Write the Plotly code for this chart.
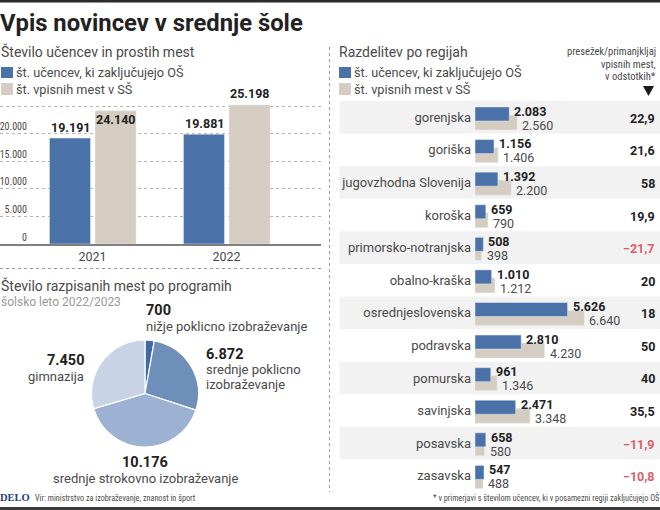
import plotly.graph_objects as go

W, H = 660, 510
FONT = "Roboto"
NARROW = "Roboto Condensed"
BLUE = "#4a72a9"
BEIGE = "#d5cdc1"
DARK = "#222222"
GREY = "#4a4a4a"

years = ["2021", "2022"]
pupils_total = [19191, 19881]
places_total = [24140, 25198]
y_ticks = [0, 5000, 10000, 15000, 20000, 25000]
y_tick_labels = ["0", "5.000", "10.000", "15.000", "20.000", ""]

programmes = ["nižje poklicno izobraževanje", "srednje poklicno izobraževanje",
              "srednje strokovno izobraževanje", "gimnazija"]
programme_places = [700, 6872, 10176, 7450]
programme_colors = ["#3f6aa3", "#6f8fbb", "#9db1d3", "#c8d3e6"]

regions = ["gorenjska", "goriška", "jugovzhodna Slovenija", "koroška",
           "primorsko-notranjska", "obalno-kraška", "osrednjeslovenska",
           "podravska", "pomurska", "savinjska", "posavska", "zasavska"]
region_pupils = [2083, 1156, 1392, 659, 508, 1010, 5626, 2810, 961, 2471, 658, 547]
region_places = [2560, 1406, 2200, 790, 398, 1212, 6640, 4230, 1346, 3348, 580, 488]
region_pct = [22.9, 21.6, 58, 19.9, -21.7, 20, 18, 50, 40, 35.5, -11.9, -10.8]


def dots(v):
    return f"{v:,}".replace(",", ".")


def pct(v):
    s = str(abs(v)).replace(".", ",")
    return ("\u2212" + s) if v < 0 else s


def px(x):
    return x / W


def py(y):
    return 1 - y / H


def note(x, y, text, size=13, color=GREY, anchor="left", bold=False, family=FONT):
    return dict(x=px(x), y=py(y), xref="paper", yref="paper", text=f"<b>{text}</b>" if bold else text,
                showarrow=False, xanchor=anchor, yanchor="middle",
                font=dict(size=size, color=color, family=family), borderpad=0, borderwidth=0)


def rect(x0, y0, x1, y1, color, layer="below"):
    return dict(type="rect", xref="paper", yref="paper", x0=px(x0), x1=px(x1), y0=py(y0), y1=py(y1),
                fillcolor=color, line_width=0, layer=layer)


def line(x0, y0, x1, y1):
    return dict(type="line", xref="paper", yref="paper", x0=px(x0), x1=px(x1), y0=py(y0), y1=py(y1),
                line=dict(color="#9a9a9a", width=1, dash="dot"), layer="below")


fig = go.Figure()

fig.add_bar(x=years, y=pupils_total, marker_color=BLUE, width=0.306, offset=-0.321,
            xaxis="x", yaxis="y", name="št. učencev, ki zaključujejo OŠ")
fig.add_bar(x=years, y=places_total, marker_color=BEIGE, width=0.306, offset=0.019,
            xaxis="x", yaxis="y", name="št. vpisnih mest v SŠ")

fig.add_pie(labels=programmes, values=programme_places, sort=False, direction="clockwise",
            rotation=0, textinfo="none", hole=0,
            marker=dict(colors=programme_colors, line=dict(color="white", width=1.2)),
            domain=dict(x=[px(91.5), px(198.5)], y=[py(447), py(340)]))

fig.add_bar(y=regions, x=region_places, orientation="h", marker_color=BEIGE, width=0.46, offset=-0.07,
            xaxis="x2", yaxis="y2", name="št. vpisnih mest v SŠ")
fig.add_bar(y=regions, x=region_pupils, orientation="h", marker_color=BLUE, width=0.43, offset=-0.316,
            xaxis="x2", yaxis="y2", name="št. učencev, ki zaključujejo OŠ")

anns = [
    note(0, 23, "Vpis novincev v srednje šole", 23.8, DARK, bold=True),
    note(1, 52, "Število učencev in prostih mest", 14),
    note(16, 73, "št. učencev, ki zaključujejo OŠ", 12.7),
    note(16, 89, "št. vpisnih mest v SŠ", 12.7),
    note(1, 285, "Število razpisanih mest po programih", 14),
    note(1, 302, "šolsko leto 2022/2023", 12, "#9a9a9a"),
    note(339, 52, "Razdelitev po regijah", 14),
    note(354, 73, "št. učencev, ki zaključujejo OŠ", 12.7),
    note(354, 89, "št. vpisnih mest v SŠ", 12.7),
    note(656, 52, "presežek/primanjkljaj", 10.5, GREY, "right", family=NARROW),
    note(656, 64, "vpisnih mest,", 10.5, GREY, "right", family=NARROW),
    note(656, 76, "v odstotkih*", 10.5, GREY, "right", family=NARROW),
    note(146, 310, dots(programme_places[0]), 14.5, DARK, bold=True),
    note(146, 326, "nižje poklicno izobraževanje", 13),
    note(206, 354, dots(programme_places[1]), 14.5, DARK, bold=True),
    note(206, 369, "srednje poklicno", 13),
    note(206, 384, "izobraževanje", 13),
    note(84, 360, dots(programme_places[3]), 14.5, DARK, "right", bold=True),
    note(84, 376, "gimnazija", 13, GREY, "right"),
    note(145, 462, dots(programme_places[2]), 14.5, DARK, "center", bold=True),
    note(145, 478, "srednje strokovno izobraževanje", 13, GREY, "center"),
    note(0, 497, "DELO", 10.5, "#1d3f78", bold=True, family="Liberation Serif"),
    note(35, 498, "Vir: ministrstvo za izobraževanje, znanost in šport", 8.2, GREY, family=NARROW),
    note(659, 497, "* v primerjavi s številom učencev, ki v posamezni regiji zaključujejo OŠ", 8.2, GREY, "right", family=NARROW),
]

col_shift = {19191: 1, 24140: -18, 19881: 1, 25198: 2}
for i, yr in enumerate(years):
    for v, dx in ((pupils_total[i], -22), (places_total[i], 23)):
        anns.append(dict(x=i, y=v, xref="x", yref="y", text=f"<b>{dots(v)}</b>", showarrow=False,
                         xanchor="center", yanchor="bottom", xshift=dx, yshift=col_shift[v],
                         font=dict(size=12.5, color=DARK, family=FONT)))

for i, r in enumerate(regions):
    anns.append(dict(x=region_pupils[i], y=r, xref="x2", yref="y2", text=f"<b>{dots(region_pupils[i])}</b>",
                     showarrow=False, xanchor="left", yanchor="middle", xshift=3, yshift=6,
                     font=dict(size=12.5, color=DARK, family=FONT)))
    anns.append(dict(x=region_places[i], y=r, xref="x2", yref="y2", text=dots(region_places[i]),
                     showarrow=False, xanchor="left", yanchor="middle", xshift=3, yshift=-8,
                     font=dict(size=12.5, color=GREY, family=FONT)))
    anns.append(dict(x=px(657), y=r, xref="paper", yref="y2", text=f"<b>{pct(region_pct[i])}</b>",
                     showarrow=False, xanchor="right", yanchor="middle", yshift=-1,
                     font=dict(size=12.5, color="#d8606c" if region_pct[i] < 0 else DARK, family=FONT)))

shapes = [
    rect(0, 0, W, 2.5, "#2b2b2b"),
    rect(0, 507, W, H, "#3a3a3a"),
    rect(1, 67, 13, 78, BLUE), rect(1, 83, 13, 95, BEIGE),
    rect(339, 67, 351, 78, BLUE), rect(339, 83, 351, 95, BEIGE),
    line(329.5, 47, 329.5, 492),
    line(0, 268.5, 321, 268.5),
    dict(type="path", xref="paper", yref="paper", fillcolor="#1a1a1a", line_width=0,
         path=f"M {px(643)} {py(86)} L {px(654)} {py(86)} L {px(648.5)} {py(96)} Z"),
]
row_h = (492 - 101) / 12
for i in range(0, 12, 2):
    shapes.append(rect(339.5, 101 + i * row_h, W, 101 + (i + 1) * row_h, "#f2f2f2"))

fig.update_layout(
    width=W, height=H, margin=dict(l=0, r=0, t=0, b=0, autoexpand=False),
    paper_bgcolor="white", plot_bgcolor="rgba(0,0,0,0)", showlegend=False,
    barmode="overlay", font=dict(family=FONT, color=GREY),
    annotations=anns, shapes=shapes,
    xaxis=dict(domain=[0, px(321)], type="category", range=[-0.69, 1.705], anchor="y",
               showgrid=False, showline=True, linecolor="#7f7f7f", linewidth=1.5, ticks="",
               tickfont=dict(size=12.5, color=GREY, family=FONT)),
    yaxis=dict(domain=[py(244), py(100)], range=[0, 26087], anchor="free", position=px(27),
               tickmode="array", tickvals=y_ticks, ticktext=y_tick_labels,
               ticklabelposition="outside top", ticks="", showline=False, zeroline=False,
               showgrid=True, gridcolor="#b5b5b5", griddash="dot", gridwidth=1,
               tickfont=dict(size=10, color=GREY, family=NARROW)),
    xaxis2=dict(domain=[px(475), 1], range=[0, 185 / 0.01645], anchor="y2", visible=False),
    yaxis2=dict(domain=[py(492), py(101)], type="category", categoryorder="array", categoryarray=regions,
                range=[11.5, -0.5], anchor="x2", ticks="", showgrid=False, showline=False, zeroline=False,
                ticklabelstandoff=3, tickfont=dict(size=13, color=GREY, family=FONT)),
)

fig.write_html("out.html", config=dict(displayModeBar=False),
               post_script="document.body.style.margin='0';document.documentElement.style.margin='0';")
